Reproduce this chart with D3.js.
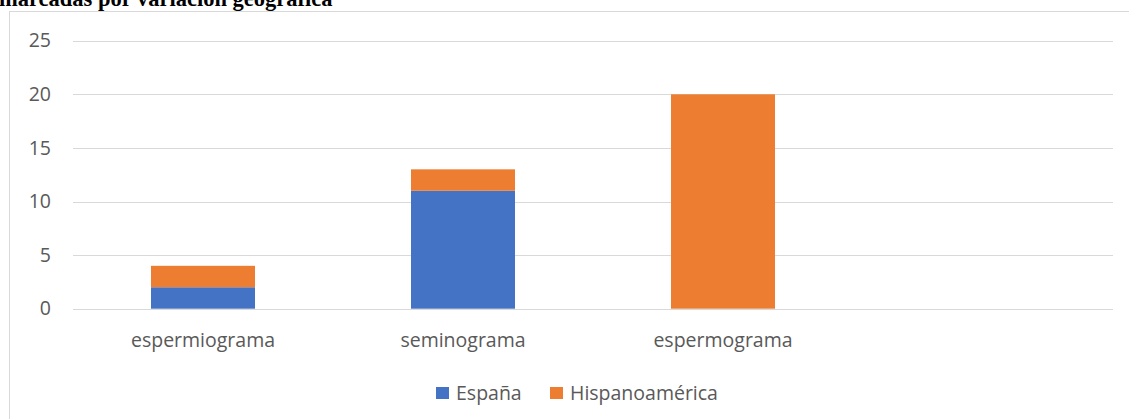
<!DOCTYPE html>
<html>
<head>
<meta charset="utf-8">
<script src="https://cdn.jsdelivr.net/npm/d3@7"></script>
<style>
  html, body { margin: 0; padding: 0; background: #fff; }
  svg { display: block; }
</style>
</head>
<body>
<svg id="chart" width="1129" height="419"></svg>
<script>
// Term counts by geographic variety
const categories = ["espermiograma", "seminograma", "espermograma", ""];
const espana = [2, 11, 0, null];
const hispanoamerica = [2, 2, 20, null];
const seriesNames = ["España", "Hispanoamérica"];
const seriesColors = ["#4472C4", "#ED7D31"];
const yTicks = [0, 5, 10, 15, 20, 25];
const titleText = "marcadas por variación geográfica";

const svg = d3.select("#chart");
const W = 1129, H = 419;
const font = "'Open Sans', 'Noto Sans', sans-serif";
const labelSize = 19.5;

// Section title above the chart frame
svg.append("text")
  .attr("x", -1).attr("y", 5.5)
  .attr("font-family", "'Liberation Serif', 'Times New Roman', serif")
  .attr("font-weight", "bold")
  .attr("font-size", 22.5)
  .attr("fill", "#000")
  .text(titleText);

// Chart frame
svg.append("rect")
  .attr("x", 9.5).attr("y", 11.5)
  .attr("width", W + 10).attr("height", H + 10)
  .attr("fill", "#fff")
  .attr("stroke", "#d9d9d9")
  .attr("stroke-width", 1);

const plot = { left: 73, right: 1113, top: 40.7, bottom: 308.7 };

const x = d3.scaleBand()
  .domain(d3.range(categories.length))
  .range([plot.left, plot.right])
  .paddingInner(0.6)
  .paddingOuter(0.3);

const y = d3.scaleLinear()
  .domain([0, 25])
  .range([plot.bottom, plot.top]);

// Horizontal gridlines
svg.append("g")
  .selectAll("line")
  .data(yTicks)
  .join("line")
  .attr("x1", plot.left).attr("x2", plot.right)
  .attr("y1", d => Math.round(y(d)) + 0.5)
  .attr("y2", d => Math.round(y(d)) + 0.5)
  .attr("stroke", "#d9d9d9")
  .attr("stroke-width", 1);

// Y axis labels
const yAxis = d3.axisLeft(y).tickValues(yTicks).tickSize(0).tickPadding(0);
const yg = svg.append("g")
  .attr("transform", `translate(${plot.left - 22},0)`)
  .call(yAxis);
yg.select(".domain").remove();
yg.selectAll("text")
  .attr("font-family", font)
  .attr("font-size", labelSize)
  .attr("fill", "#595959");

// Stacked bars
const rows = categories.map((c, i) => ({
  idx: i,
  "España": espana[i] || 0,
  "Hispanoamérica": hispanoamerica[i] || 0
}));
const stack = d3.stack().keys(seriesNames)(rows);

svg.append("g")
  .selectAll("g")
  .data(stack)
  .join("g")
  .attr("fill", (d, i) => seriesColors[i])
  .selectAll("rect")
  .data(d => d.filter(p => p[1] - p[0] > 0))
  .join("rect")
  .attr("x", d => x(d.data.idx))
  .attr("width", x.bandwidth())
  .attr("y", d => y(d[1]))
  .attr("height", d => y(d[0]) - y(d[1]));

// X axis labels
const xAxis = d3.axisBottom(x).tickFormat(i => categories[i]).tickSize(0).tickPadding(0);
const xg = svg.append("g")
  .attr("transform", `translate(0,${plot.bottom + 24})`)
  .call(xAxis);
xg.select(".domain").remove();
xg.selectAll("text")
  .attr("font-family", font)
  .attr("font-size", labelSize)
  .attr("fill", "#595959");

// Legend
const legendItems = [
  { name: seriesNames[0], color: seriesColors[0], x: 436 },
  { name: seriesNames[1], color: seriesColors[1], x: 550 }
];
const lg = svg.append("g");
legendItems.forEach(it => {
  lg.append("rect")
    .attr("x", it.x).attr("y", 387)
    .attr("width", 13).attr("height", 12)
    .attr("fill", it.color);
  lg.append("text")
    .attr("x", it.x + 20).attr("y", 399.5)
    .attr("font-family", font)
    .attr("font-size", labelSize)
    .attr("fill", "#595959")
    .text(it.name);
});
</script>
</body>
</html>
